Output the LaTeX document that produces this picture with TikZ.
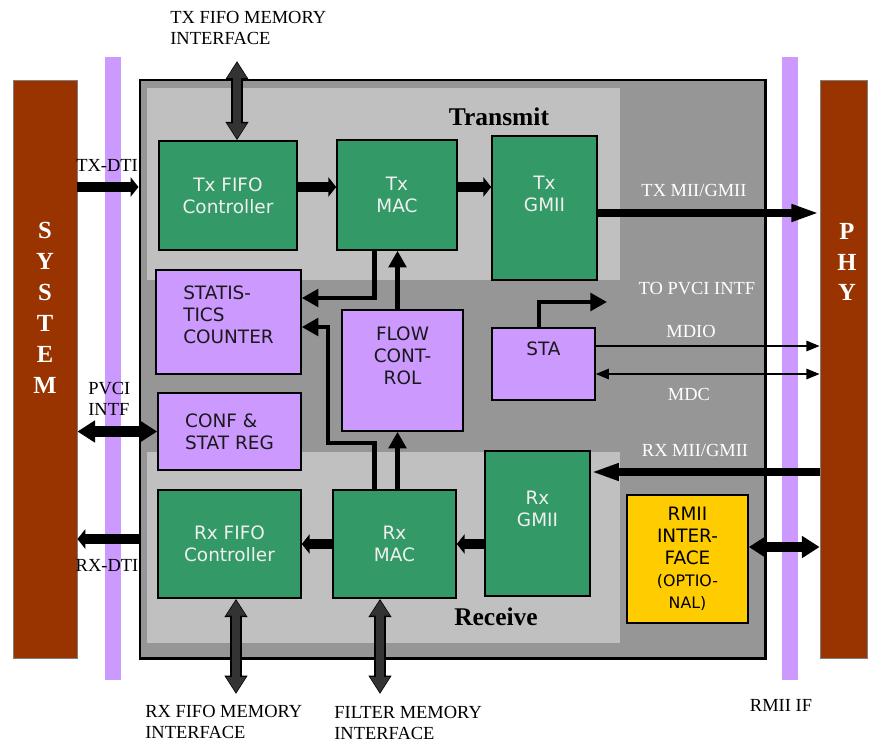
\documentclass[tikz,border=0pt]{standalone}
\usepackage{fontspec}
\setmainfont{Liberation Serif}
\newfontfamily\blockfont{DejaVu Sans}
\usepackage{tikz}
\usetikzlibrary{arrows.meta}
\definecolor{sysbrown}{HTML}{993300}
\definecolor{ifviolet}{HTML}{CC99FF}
\definecolor{macgreen}{HTML}{339966}
\definecolor{coregray}{HTML}{969696}
\definecolor{pathgray}{HTML}{C0C0C0}
\definecolor{rmiiyellow}{HTML}{FFCC00}
\definecolor{memgray}{HTML}{333333}

\begin{document}
\begin{tikzpicture}[
x=0.2mm, y=-0.2mm,
block/.style={draw=black, line width=0.9pt, inner sep=2pt, align=center, font=\blockfont\fontsize{10.5}{12.5}\selectfont},
greenbox/.style={block, fill=macgreen, text=white!94!black},
violetbox/.style={block, fill=ifviolet, text=black!90},
toptext/.style={text depth=#1},
endbar/.style={draw=gray, line width=0.5pt, fill=sysbrown, minimum width=#1, minimum height=115.6mm, inner sep=0pt},
ifbar/.style={fill=ifviolet, minimum width=3.2mm, minimum height=124.6mm, inner sep=0pt},
region/.style={fill=pathgray},
lbl/.style={font=\fontsize{10.5}{12}\selectfont, inner sep=0pt},
wlbl/.style={lbl, text=white},
bartext/.style={font=\bfseries\fontsize{14}{17.6}\selectfont, text=white, align=center, inner sep=0pt},
pathlbl/.style={font=\bfseries\fontsize{14.5}{17}\selectfont, inner sep=0pt},
bigarrow/.style={-{Triangle[length=4.5pt, width=11pt]}, line width=5.8pt},
dblarrow/.style={{Triangle[length=10pt, width=12pt]}-{Triangle[length=10pt, width=12pt]}, line width=6pt},
busarrow/.style={-{Triangle[length=16pt, width=9pt]}, line width=4.6pt},
ctlarrow/.style={-{Triangle[length=9.5pt, width=10pt]}, line width=2.3pt},
sigarrow/.style={-{Triangle[length=7.5pt, width=6pt]}, line width=0.8pt},
sigboth/.style={sigarrow, {Triangle[length=7.5pt, width=6pt]}-{Triangle[length=7.5pt, width=6pt]}},
memarrow/.style={{Triangle[length=8.8pt, width=10.6pt]}-{Triangle[length=8.8pt, width=10.6pt]}, line width=4.8pt, draw=memgray, shorten <=0.8pt, shorten >=0.8pt,
  preaction={draw=black, line width=6.4pt, {Triangle[length=10.4pt, width=12.4pt]}-{Triangle[length=10.4pt, width=12.4pt]}, shorten <=0pt, shorten >=0pt}}
]
\useasboundingbox (0,0) rectangle (874,744);

\node[endbar=12.8mm] (system) at (45,369) {};
\node[endbar=9.4mm] (phy) at (843.5,369) {};
\node[bartext] (systxt) at (45,308) {S\\Y\\S\\T\\E\\M};
\node[bartext] (phytxt) at (847,262) {P\\H\\Y};
\node[ifbar] (lif) at (113,368.5) {};
\node[ifbar] (rif) at (790,368.5) {};

\node[draw, line width=1.7pt, fill=coregray, minimum width=125mm, minimum height=115.6mm, inner sep=0pt] (core) at (452.5,369) {};
\fill[region] (147,88) rectangle (620,280);
\fill[region] (147,452) rectangle (620,643);
\node[pathlbl] (txlbl) at (499,117) {Transmit};
\node[pathlbl] (rxlbl) at (496,617) {Receive};

\node[greenbox, minimum width=27.6mm, minimum height=21.8mm] (txfifo) at (228,195.5) {Tx FIFO\\Controller};
\node[greenbox, minimum width=24mm, minimum height=22mm] (txmac) at (397,195) {Tx\\MAC};
\node[greenbox, toptext=16pt, minimum width=21mm, minimum height=28.8mm] (txgmii) at (544.5,208) {Tx\\GMII};
\node[violetbox, align=left, toptext=8pt, minimum width=29mm, minimum height=20.8mm] (stat) at (228.5,322) {STATIS-\\TICS\\COUNTER};
\node[violetbox, align=left, minimum width=28.6mm, minimum height=15.4mm] (conf) at (229.5,431.5) {CONF \&\\STAT REG};
\node[violetbox, toptext=17pt, minimum width=24.2mm, minimum height=24.2mm] (flow) at (402.5,370.5) {FLOW\\CONT-\\ROL};
\node[violetbox, toptext=17pt, minimum width=20.6mm, minimum height=14.4mm] (sta) at (543.5,364) {STA};
\node[greenbox, minimum width=28.6mm, minimum height=21.6mm] (rxfifo) at (229.5,544) {Rx FIFO\\Controller};
\node[greenbox, minimum width=24.6mm, minimum height=21.6mm] (rxmac) at (394.5,544) {Rx\\MAC};
\node[greenbox, toptext=17pt, minimum width=21mm, minimum height=29mm] (rxgmii) at (537.5,523.5) {Rx\\GMII};
\node[block, fill=rmiiyellow, minimum width=24.2mm, minimum height=25.6mm] (rmii) at (687.5,559) {RMII\\INTER-\\FACE\\{\fontsize{9}{11}\selectfont(OPTIO-}\\{\fontsize{9}{11}\selectfont NAL)}};

\coordinate (txmem) at (237,61);
\coordinate (rxmem) at (236,694);
\coordinate (fltmem) at (380,694);
\coordinate (topvci) at (607,302);
\coordinate (fcx) at (397.5,0);
\coordinate (scx) at (374.5,0);

\draw[memarrow] (txmem) -- (txmem |- txfifo.north);
\draw[memarrow] (rxmem |- rxfifo.south) -- (rxmem);
\draw[memarrow] (fltmem |- rxmac.south) -- (fltmem);

\draw[bigarrow] (system.east |- 0,187) -- (core.west |- 0,187);
\draw[bigarrow] (txfifo.east |- 0,187) -- (txmac.west |- 0,187);
\draw[bigarrow] (txmac.east |- 0,187) -- (txgmii.west |- 0,187);
\draw[busarrow] (txgmii.east |- 0,213) -- (phy.west |- 0,213);
\draw[ctlarrow] (txmac.south -| scx) |- (stat.east |- 0,298);
\draw[ctlarrow] (flow.north -| fcx) -- (txmac.south -| fcx);
\draw[ctlarrow] (rxmac.north -| scx) |- (328,443) |- (stat.east |- 0,327);
\draw[ctlarrow] (rxmac.north -| fcx) -- (flow.south -| fcx);
\draw[ctlarrow] ([xshift=-0.9mm]sta.north) |- (topvci);
\draw[sigarrow] (sta.east |- 0,346) -- (phy.west |- 0,346);
\draw[sigboth] (sta.east |- 0,374) -- (phy.west |- 0,374);
\draw[busarrow] (phy.west |- 0,472) -- (rxgmii.east |- 0,472);
\draw[bigarrow] (rxgmii.west |- rxmac) -- (rxmac.east);
\draw[bigarrow] (rxmac.west) -- (rxfifo.east);
\draw[bigarrow] (core.west |- 0,539) -- (system.east |- 0,539);
\draw[dblarrow] (system.east |- conf) -- (conf.west);
\draw[dblarrow] (rmii.east |- 0,547) -- (phy.west |- 0,547);

\node[lbl, align=left, anchor=north west] (txmemlbl) at (170,11) {TX FIFO MEMORY\\INTERFACE};
\node[lbl, align=left, anchor=north west] (rxmemlbl) at (145,705) {RX FIFO MEMORY\\INTERFACE};
\node[lbl, align=left, anchor=north west] (fltmemlbl) at (334,706) {FILTER MEMORY\\INTERFACE};
\node[lbl, align=left, anchor=north west] (pvcilbl) at (88,382) {PVCI\\INTF};
\node[lbl] (txdti) at (107,165) {TX-DTI};
\node[lbl] (rxdti) at (107,565) {RX-DTI};
\node[lbl] (rmiiif) at (781,705) {RMII IF};
\node[wlbl] (txmii) at (694,190) {TX MII/GMII};
\node[wlbl] (pvciout) at (697,289) {TO PVCI INTF};
\node[wlbl] (mdio) at (691,331) {MDIO};
\node[wlbl] (mdc) at (689,394) {MDC};
\node[wlbl] (rxmii) at (695,450) {RX MII/GMII};
\end{tikzpicture}
\end{document}
